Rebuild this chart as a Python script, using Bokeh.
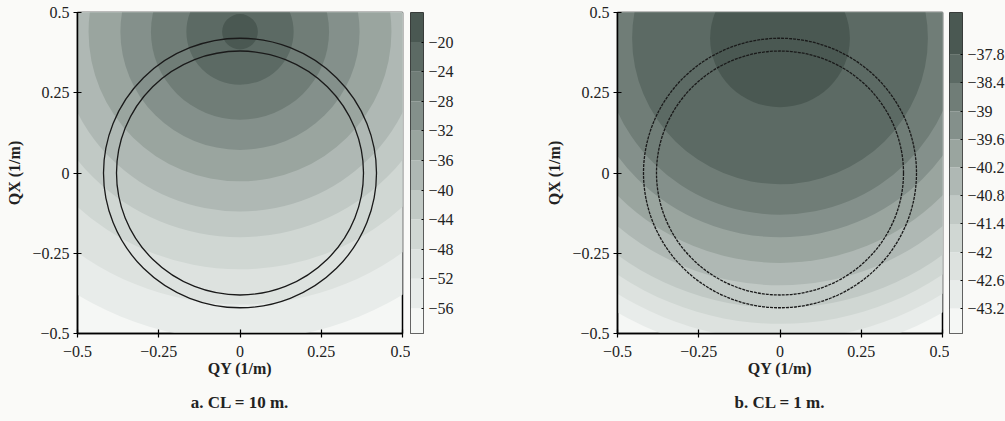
from bokeh.plotting import figure
from bokeh.layouts import row
from bokeh.models import FixedTicker, Title, Range1d, ColumnDataSource
from bokeh.embed import file_html
from bokeh.resources import INLINE

# ---------------- data ----------------
axis_ticks = [-0.5, -0.25, 0, 0.25, 0.5]
axis_tick_labels = ["\u22120.5", "\u22120.25", "0", "0.25", "0.5"]

# panel a : CL = 10 m  (contour levels in dB, radius of each level ring around the peak)
levels_a = [-56, -52, -48, -44, -40, -36, -32, -28, -24, -20]
level_labels_a = ["\u221256", "\u221252", "\u221248", "\u221244", "\u221240",
                  "\u221236", "\u221232", "\u221228", "\u221224", "\u221220"]
radii_a = [0.96, 0.85, 0.74, 0.64, 0.56, 0.466, 0.368, 0.274, 0.165, 0.055]
peak_a = (0.0, 0.44)          # (QY, QX) of the maximum
range_a = (-59.4, -16.0)      # colour-bar extent
caption_a = "a. CL = 10 m."

# panel b : CL = 1 m
levels_b = [-43.2, -42.6, -42.0, -41.4, -40.8, -40.2, -39.6, -39.0, -38.4, -37.8]
level_labels_b = ["\u221243.2", "\u221242.6", "\u221242", "\u221241.4", "\u221240.8",
                  "\u221240.2", "\u221239.6", "\u221239", "\u221238.4", "\u221237.8"]
radii_b = [0.99, 0.94, 0.89, 0.84, 0.77, 0.70, 0.62, 0.55, 0.455, 0.215]
peak_b = (0.0, 0.42)
range_b = (-43.73, -36.9)
caption_b = "b. CL = 1 m."

# the two reference circles centred at the origin
circle_radii = [0.38, 0.42]

# ---------------- style ----------------
palette = ["#f5f7f5", "#e8ecea", "#dde2df", "#d0d7d3", "#c1c9c5", "#afb8b4",
           "#9aa59f", "#84908b", "#707d77", "#5c6a64", "#4a5852"]   # light -> dark
FONT = "Liberation Serif"
BG = "#fafaf8"


def tick_overrides(ticks, labels):
    return {f"{t:g}": l for t, l in zip(ticks, labels)}


def panel(radii, peak, caption, dash, right_border):
    p = figure(frame_width=325, frame_height=321,
               x_range=Range1d(-0.5, 0.5), y_range=Range1d(-0.5, 0.5),
               output_backend="svg", toolbar_location=None,
               min_border_left=77, min_border_right=right_border,
               min_border_top=12, min_border_bottom=88,
               background_fill_color=palette[0], border_fill_color=BG,
               outline_line_color="black", outline_line_width=1.5)
    p.grid.visible = False
    n = len(radii)
    src = ColumnDataSource(dict(
        x=[peak[0]] * n, y=[peak[1]] * n,
        w=[2 * r for r in radii], h=[2 * r for r in radii],
        c=palette[1:1 + n]))
    p.ellipse(x="x", y="y", width="w", height="h", fill_color="c",
              line_color=None, source=src)
    m = len(circle_radii)
    p.ellipse(x=[0] * m, y=[0] * m, width=[2 * r for r in circle_radii],
              height=[2 * r for r in circle_radii], fill_color=None,
              line_color="#1a1a1a", line_width=1.3, line_dash=dash)

    ov = tick_overrides(axis_ticks, axis_tick_labels)
    for ax in (p.xaxis[0], p.yaxis[0]):
        ax.ticker = FixedTicker(ticks=axis_ticks)
        ax.major_label_overrides = ov
        ax.major_label_text_font = FONT
        ax.major_label_text_font_size = "16px"
        ax.major_label_text_color = "#222222"
        ax.axis_label_text_font = FONT
        ax.axis_label_text_font_size = "16px"
        ax.axis_label_text_font_style = "bold"
        ax.axis_label_text_color = "#222222"
        ax.major_tick_in = 4
        ax.major_tick_out = 4
        ax.minor_tick_in = 0
        ax.minor_tick_out = 0
        ax.axis_line_width = 1.5
        ax.major_tick_line_width = 1.2
    p.xaxis.axis_label = "QY (1/m)"
    p.yaxis.axis_label = "QX (1/m)"
    p.xaxis.major_label_standoff = 8
    p.xaxis.axis_label_standoff = 0
    p.yaxis.major_label_standoff = 4
    p.yaxis.axis_label_standoff = 6

    p.add_layout(Title(text=caption, align="center", text_font=FONT,
                       text_font_size="17px", text_font_style="bold",
                       text_color="#222222", standoff=22), "below")
    return p


def colorbar(levels, labels, rng, right_border):
    c = figure(frame_width=13, frame_height=321,
               x_range=Range1d(0, 1), y_range=Range1d(rng[0], rng[1]),
               output_backend="svg", toolbar_location=None,
               min_border_left=0, min_border_right=right_border,
               min_border_top=12, min_border_bottom=88,
               y_axis_location="right", x_axis_location=None,
               border_fill_color=BG, outline_line_color="#333333",
               outline_line_width=1.0)
    c.grid.visible = False
    edges = [rng[0]] + list(levels) + [rng[1]]
    src = ColumnDataSource(dict(b=edges[:-1], t=edges[1:], c=palette[:len(edges) - 1]))
    c.quad(left=0, right=1, bottom="b", top="t", fill_color="c",
           line_color=None, source=src)
    ax = c.yaxis[0]
    ax.ticker = FixedTicker(ticks=list(levels))
    ax.major_label_overrides = tick_overrides(levels, labels)
    ax.major_label_text_font = FONT
    ax.major_label_text_font_size = "16px"
    ax.major_label_text_color = "#222222"
    ax.major_tick_in = 2
    ax.major_tick_out = 0
    ax.minor_tick_in = 0
    ax.minor_tick_out = 0
    ax.axis_line_color = None
    ax.major_label_standoff = 5
    return c


pa = panel(radii_a, peak_a, caption_a, "solid", 8)
ca = colorbar(levels_a, level_labels_a, range_a, 117)
pb = panel(radii_b, peak_b, caption_b, "3 1", 7)
cb = colorbar(levels_b, level_labels_b, range_b, 43)

layout = row(pa, ca, pb, cb, spacing=0)

html = file_html(layout, INLINE, title="contours")
html = html.replace("<body>", f"<body style=\"margin:0;background:{BG}\">")
open("out.html", "w").write(html)
